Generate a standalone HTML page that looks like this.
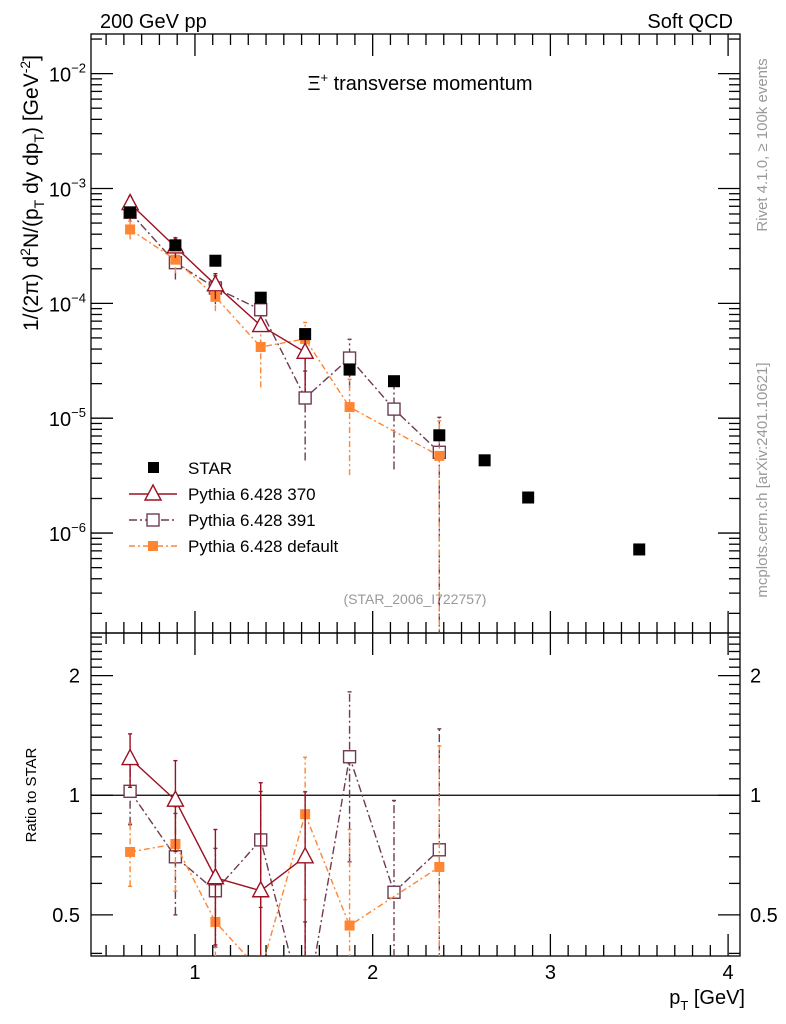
<!DOCTYPE html>
<html><head><meta charset="utf-8"><style>
html,body{margin:0;padding:0;background:#fff;overflow:hidden;width:786px;height:1024px;}
svg{display:block;font-family:"Liberation Sans",sans-serif;}
</style></head><body>
<svg id="chart" width="786" height="1024" viewBox="0 0 786 1024" xmlns="http://www.w3.org/2000/svg"></svg>
<script>
// ---- data ----
const starPt = [0.635,0.89,1.115,1.37,1.62,1.87,2.12,2.375,2.63,2.875,3.5];
const starVal = [6.2e-4,3.2e-4,2.35e-4,1.12e-4,5.4e-5,2.65e-5,2.1e-5,7.1e-6,4.3e-6,2.04e-6,7.2e-7];
const p370Pt = [0.635,0.89,1.115,1.37,1.62];
const p370Val = [7.4e-4,3.1e-4,1.45e-4,6.4e-5,3.75e-5];
const p370MErr = [0.15,0.2,0.25,0.12,0.55];
const p370Ratio = [1.237,0.972,0.62,0.575,0.70];
const p370RErr = [0.19,0.25,0.2,0.5,0.32];
const p391Pt = [0.635,0.89,1.115,1.37,1.62,1.87,2.12,2.375];
const p391Val = [6.2e-4,2.26e-4,1.36e-4,8.8e-5,1.5e-5,3.34e-5,1.2e-5,5.05e-6];
const p391Ratio = [1.023,0.70,0.575,0.772,0.28,1.25,0.57,0.729];
const p391RErr = [0.18,0.2,0.16,0.25,0.2,0.57,0.4,0.74];
const pdefPt = [0.635,0.89,1.115,1.37,1.62,1.87,2.375];
const pdefVal = [4.4e-4,2.4e-4,1.14e-4,4.17e-5,4.9e-5,1.25e-5,4.7e-6];
const pdefRatio = [0.72,0.754,0.48,0.36,0.896,0.47,0.66];
const pdefRErr = [0.13,0.18,0.12,0.2,0.35,0.35,0.67];
const xTicks = [1,2,3,4];
const yDecades = [-2,-3,-4,-5,-6];
const rTicks = [2,1,0.5];

// ---- geometry ----
const L=91,R=740,T=34,M=633,B=956;
const xmin=0.415,xmax=4.067;
const lymax=-1.655,lymin=-6.87;
const rlmax=Math.log2(2.56),rlmin=Math.log2(0.394);
const X=v=>L+(v-xmin)/(xmax-xmin)*(R-L);
const Y=v=>T+(lymax-Math.log10(v))/(lymax-lymin)*(M-T);
const YR=v=>M+(rlmax-Math.log2(Math.max(v,1e-3)))/(rlmax-rlmin)*(B-M);

const svg=document.getElementById('chart');
const NS='http://www.w3.org/2000/svg';
function mk(tag,attrs,parent){const e=document.createElementNS(NS,tag);for(const k in attrs)e.setAttribute(k,attrs[k]);(parent||svg).appendChild(e);return e;}
function txt(s,attrs,parent){const e=mk('text',attrs,parent);e.textContent=s;return e;}

const defs=mk('defs',{});
const c1=mk('clipPath',{id:'cMain'},defs);mk('rect',{x:L,y:T,width:R-L,height:M-T},c1);
const c2=mk('clipPath',{id:'cRatio'},defs);mk('rect',{x:L,y:M,width:R-L,height:B-M},c2);

let t;
t=txt('200 GeV pp',{x:100,y:28,'font-size':20});

t=txt('Soft QCD',{x:733,y:28,'font-size':20,'text-anchor':'end'});

t=txt('',{x:420,y:90,'font-size':20,'text-anchor':'middle'});
t.innerHTML='Ξ<tspan dy="-8" font-size="13">+</tspan><tspan dy="8"> transverse momentum</tspan>';

t=txt('Rivet 4.1.0, ≥ 100k events',{x:0,y:0,'font-size':15,fill:'#999','text-anchor':'middle',transform:'translate(767,145) rotate(-90)'});

t=txt('mcplots.cern.ch [arXiv:2401.10621]',{x:0,y:0,'font-size':15,fill:'#999','text-anchor':'middle',transform:'translate(767,480) rotate(-90)'});

t=txt('(STAR_2006_I722757)',{x:415,y:604,'font-size':14,fill:'#999','text-anchor':'middle'});


t=txt('',{x:0,y:0,'font-size':21,'text-anchor':'middle',transform:'translate(38,193) rotate(-90)'});
t.innerHTML='1/(2π)   d<tspan dy="-8" font-size="14">2</tspan><tspan dy="8">N/(p</tspan><tspan dy="6" font-size="14">T</tspan><tspan dy="-6"> dy dp</tspan><tspan dy="6" font-size="14">T</tspan><tspan dy="-6">) [GeV</tspan><tspan dy="-8" font-size="14">-2</tspan><tspan dy="8">]</tspan>';

t=txt('Ratio to STAR',{x:0,y:0,'font-size':15,'text-anchor':'middle',transform:'translate(36,795) rotate(-90)'});

t=txt('',{x:745,y:1004,'font-size':20,'text-anchor':'end'});
t.innerHTML='p<tspan dy="6" font-size="13">T</tspan><tspan dy="-6"> [GeV]</tspan>';


const ax=mk('g',{stroke:'#000','stroke-width':1.3,fill:'none'});

mk('rect',{x:L,y:T,width:R-L,height:M-T},ax);
mk('rect',{x:L,y:M,width:R-L,height:B-M},ax);
for(let v=0.5;v<=4.05;v+=0.1){
  const vv=Math.round(v*10)/10;
  const major=Math.abs(vv-Math.round(vv))<1e-6;
  const h=major?22:11;const x=X(vv);
  if(x<L||x>R)continue;
  [[T,1],[M,-1],[M,1],[B,-1]].forEach(([y0,d])=>mk('line',{x1:x,x2:x,y1:y0,y2:y0+d*h},ax));
}
xTicks.forEach(v=>{const e=txt(String(v),{x:X(v),y:979,'font-size':20,'text-anchor':'middle'});
});
for(let d=-7;d<=-2;d++){
  for(let m=1;m<10;m++){
    const v=m*Math.pow(10,d);const y=Y(v);
    if(y<T||y>M)continue;
    const h=m===1?22:11;
    mk('line',{x1:L,x2:L+h,y1:y,y2:y},ax);mk('line',{x1:R,x2:R-h,y1:y,y2:y},ax);
  }
}
yDecades.forEach(d=>{const e=txt('',{x:86,y:Y(Math.pow(10,d))+8,'font-size':20,'text-anchor':'end'});
e.innerHTML='10<tspan dy="-9" font-size="13">'+(d<0?'−':'')+Math.abs(d)+'</tspan>';
});
for(let v=0.4;v<=2.56;v+=0.1){
  const vv=Math.round(v*10)/10;const y=YR(vv);
  if(y<M||y>B)continue;
  const major=(vv===0.5||vv===1||vv===2);
  const h=major?22:11;
  mk('line',{x1:L,x2:L+h,y1:y,y2:y},ax);mk('line',{x1:R,x2:R-h,y1:y,y2:y},ax);
}
rTicks.forEach(v=>{
  let e=txt(String(v),{x:80,y:YR(v)+7,'font-size':20,'text-anchor':'end'});
  
  e=txt(String(v),{x:750,y:YR(v)+7,'font-size':20,'text-anchor':'start'});
  
});
let l1=mk('line',{x1:L,x2:R,y1:YR(1),y2:YR(1),stroke:'#000','stroke-width':1.3});


const C370='#9b1023',C391='#6e3b52',CDEF='#ff8533';
function marker(g,kind,x,y,col){
  if(kind==='tri') mk('path',{d:`M${x},${y-9}L${x+8},${y+6}L${x-8},${y+6}Z`,fill:'#fff',stroke:col,'stroke-width':1.4},g);
  else if(kind==='osq') mk('rect',{x:x-6,y:y-6,width:12,height:12,fill:'#fff',stroke:col,'stroke-width':1.4},g);
  else if(kind==='fsq') mk('rect',{x:x-5,y:y-5,width:10,height:10,fill:col},g);
  else mk('rect',{x:x-6,y:y-6,width:12,height:12,fill:col},g);
}
function series(name,pts,vals,ratio,rerr,col,dash,kind,merr){
  const gm=mk('g',{'clip-path':'url(#cMain)'});
  
  const gr=mk('g',{'clip-path':'url(#cRatio)'});
  
  const sd={stroke:col,'stroke-width':1.4,fill:'none'};if(dash)sd['stroke-dasharray']=dash;
  mk('polyline',Object.assign({points:pts.map((p,i)=>X(p)+','+Y(vals[i])).join(' ')},sd),gm);
  mk('polyline',Object.assign({points:pts.map((p,i)=>X(p)+','+YR(ratio[i])).join(' ')},sd),gr);
  pts.forEach((p,i)=>{
    const x=X(p);
    const fe=merr?merr[i]:rerr[i]/ratio[i];
    const lo=Math.max(vals[i]*(1-fe),1e-9),hi=vals[i]*(1+fe);
    mk('line',Object.assign({x1:x,x2:x,y1:Y(lo),y2:Y(hi)},sd),gm);
    mk('line',{x1:x-2,x2:x+2,y1:Y(hi),y2:Y(hi),stroke:col,'stroke-width':1.4},gm);
    mk('line',Object.assign({x1:x,x2:x,y1:YR(Math.max(ratio[i]-rerr[i],0.01)),y2:YR(ratio[i]+rerr[i])},sd),gr);
    mk('line',{x1:x-2,x2:x+2,y1:YR(ratio[i]+rerr[i]),y2:YR(ratio[i]+rerr[i]),stroke:col,'stroke-width':1.4},gr);
    mk('line',{x1:x-2,x2:x+2,y1:YR(ratio[i]-rerr[i]),y2:YR(ratio[i]-rerr[i]),stroke:col,'stroke-width':1.4},gr);
    marker(gm,kind,x,Y(vals[i]),col);
    marker(gr,kind,x,YR(ratio[i]),col);
  });
}
series('pythia-391',p391Pt,p391Val,p391Ratio,p391RErr,C391,'8,3,2,3','osq',null);
series('pythia-default',pdefPt,pdefVal,pdefRatio,pdefRErr,CDEF,'6,3,2,3','fsq',null);
series('pythia-370',p370Pt,p370Val,p370Ratio,p370RErr,C370,null,'tri',p370MErr);
const gs=mk('g',{'clip-path':'url(#cMain)'});

starPt.forEach((p,i)=>marker(gs,'star',X(p),Y(starVal[i]),'#000'));

const lg=mk('g',{});

const entries=[['STAR','#000',null,'star',false],['Pythia 6.428 370',C370,null,'tri',true],['Pythia 6.428 391',C391,'8,3,2,3','osq',true],['Pythia 6.428 default',CDEF,'6,3,2,3','fsq',true]];
entries.forEach((en,i)=>{
  const y=468+i*26;
  const g=mk('g',{},lg);
  
  if(en[4]){const a={x1:129,x2:177,y1:y,y2:y,stroke:en[1],'stroke-width':1.4};if(en[2])a['stroke-dasharray']=en[2];mk('line',a,g);}
  if(en[3]==='star') mk('rect',{x:148,y:y-6,width:11,height:11,fill:'#000'},g);
  else marker(g,en[3],153,y,en[1]);
  txt(en[0],{x:188,y:y+6,'font-size':17},g);
});
</script>
</body></html>
